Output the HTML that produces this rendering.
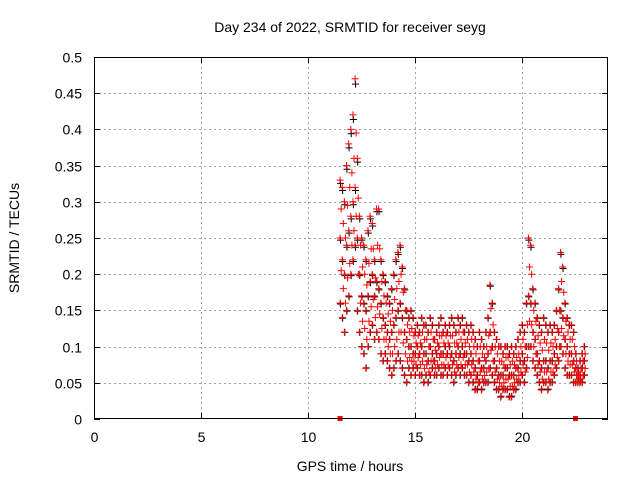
<!DOCTYPE html>
<html><head><meta charset="utf-8"><style>
body{margin:0;background:#fff}
svg text{font-family:"Liberation Sans",sans-serif;font-size:14px;fill:#000}
</style></head><body>
<svg id="c" width="640" height="480">
<text x="350" y="32" text-anchor="middle">Day 234 of 2022, SRMTID for receiver seyg</text>
<text x="350" y="471" text-anchor="middle">GPS time / hours</text>
<text transform="translate(19,238) rotate(-90)" text-anchor="middle">SRMTID / TECUs</text>
<g id="grid"></g><g id="black"></g><g id="marks"></g>
<rect x="94.5" y="57.5" width="513" height="361" fill="none" stroke="#000"/>
</svg>
<script>
const xTicks=[0,5,10,15,20];
const yTicks=[0,0.05,0.1,0.15,0.2,0.25,0.3,0.35,0.4,0.45,0.5];
const tStart=11.5, tStep=0.1;
const hiVals=[.33,.32,.30,.35,.38,.40,.42,.47,.36,.28,.25,.24,.22,.26,.28,.27,.22,.29,.29,.22,.20,.19,.17,.16,.18,.20,.22,.23,.24,.21,.18,.15,.14,.15,.14,.12,.13,.12,.14,.13,.13,.12,.14,.13,.11,.12,.13,.14,.12,.13,.12,.13,.14,.13,.12,.14,.13,.14,.12,.13,.12,.13,.12,.11,.10,.12,.11,.10,.12,.14,.185,.16,.12,.11,.10,.10,.09,.10,.10,.09,.10,.09,.10,.11,.12,.13,.12,.16,.25,.24,.18,.16,.14,.13,.12,.14,.13,.12,.13,.12,.13,.15,.18,.23,.21,.16,.14,.13,.13,.12,.09,.07,.08,.09,.10];
const midVals=[.25,.22,.20,.24,.26,.28,.30,.32,.25,.20,.17,.16,.15,.17,.19,.20,.17,.19,.18,.16,.14,.13,.12,.11,.12,.13,.14,.15,.16,.14,.12,.11,.10,.10,.09,.09,.10,.09,.10,.09,.09,.08,.10,.09,.08,.09,.10,.09,.09,.10,.09,.10,.09,.08,.09,.10,.09,.10,.09,.09,.08,.09,.08,.07,.06,.08,.07,.07,.08,.09,.12,.10,.08,.07,.06,.06,.06,.07,.07,.06,.06,.06,.07,.07,.08,.09,.08,.10,.17,.16,.12,.11,.09,.08,.07,.08,.08,.07,.08,.08,.09,.10,.12,.15,.14,.11,.10,.09,.09,.08,.07,.06,.06,.07,.08];
const loVals=[.16,.14,.12,.15,.17,.20,.22,.24,.15,.12,.10,.09,.07,.10,.12,.13,.11,.12,.11,.09,.08,.09,.08,.07,.06,.07,.08,.09,.08,.07,.06,.05,.07,.06,.07,.06,.07,.06,.06,.05,.06,.05,.06,.07,.06,.06,.07,.06,.06,.07,.06,.07,.06,.05,.06,.07,.06,.07,.06,.06,.05,.06,.05,.04,.04,.05,.04,.05,.05,.05,.07,.06,.05,.04,.04,.03,.04,.04,.04,.03,.03,.04,.04,.05,.05,.06,.05,.07,.10,.10,.08,.07,.06,.05,.04,.05,.05,.04,.05,.05,.06,.07,.08,.10,.09,.07,.06,.06,.06,.05,.05,.05,.05,.05,.06];
const zeroTimes=[11.5,22.5];
const X=v=>94+v*21.4, Y=v=>419-v*724;
const NS='http://www.w3.org/2000/svg';
const grid=document.getElementById('grid'), marks=document.getElementById('marks'), black=document.getElementById('black');
function mk(tag,attrs,parent){const e=document.createElementNS(NS,tag);for(const k in attrs)e.setAttribute(k,attrs[k]);parent.appendChild(e);return e;}
xTicks.forEach(t=>{
  const x=Math.round(X(t))+0.5;
  if(t>0){const g=mk('line',{x1:x,x2:x,y1:57,y2:419,stroke:'#a0a0a0','stroke-dasharray':'2,3'},grid);
  
  }
  mk('line',{x1:x,x2:x,y1:419,y2:413,stroke:'#000'},grid);
  mk('line',{x1:x,x2:x,y1:57,y2:63,stroke:'#000'},grid);
  const l=mk('text',{x:x,y:442,'text-anchor':'middle'},grid);l.textContent=t;
  
  
});
yTicks.forEach(t=>{
  const y=Math.round(Y(t))+0.5;
  if(t>0&&t<0.5){const g=mk('line',{x1:94,x2:608,y1:y,y2:y,stroke:'#a0a0a0','stroke-dasharray':'2,3'},grid);
  
  }
  mk('line',{x1:94,x2:100,y1:y,y2:y,stroke:'#000'},grid);
  mk('line',{x1:602,x2:608,y1:y,y2:y,stroke:'#000'},grid);
  const l=mk('text',{x:82,y:y+5,'text-anchor':'end'},grid);l.textContent=t;
  
  
});
function cross(t,v,col,parent){
  const x=X(t),y=Y(v);
  const p=mk('path',{d:`M${x-3.5} ${y}h7M${x} ${y-3.5}v7`,stroke:col,'stroke-width':1,fill:'none'},parent);
  
  
}
[loVals,midVals,hiVals].forEach((arr,k)=>arr.forEach((v,i)=>{
  const t=tStart+i*tStep;
  cross(t+0.02,v*0.98+0.002,'#000',black);
  cross(t,v,'#f00',marks);
  if(k<2){cross(t+0.05,(v+[midVals,hiVals][k][i])/2,'#f00',marks);}
}));
zeroTimes.forEach(t=>{
  const r=mk('rect',{x:X(t)-2.5,y:416,width:5,height:5,fill:'#f00'},marks);
  
  
});
</script>
</body></html>
